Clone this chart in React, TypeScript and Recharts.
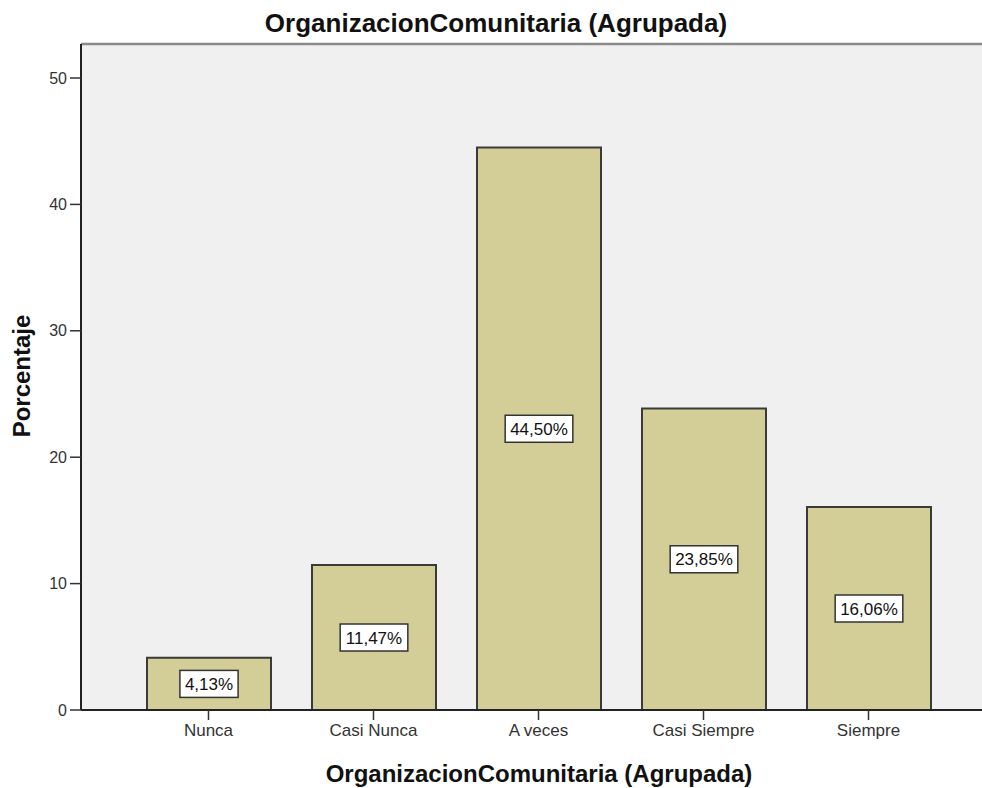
import { Bar, BarChart, CartesianGrid, LabelList, ReferenceLine, XAxis, YAxis } from "recharts";

const categories = ["Nunca", "Casi Nunca", "A veces", "Casi Siempre", "Siempre"];
const percentages = [4.13, 11.47, 44.5, 23.85, 16.06];
const yTicks = [0, 10, 20, 30, 40, 50];
const yMax = 52.69;

const chartData = categories.map((name, i) => ({ name, value: percentages[i] }));

const FONT = "'Liberation Sans', Arial, sans-serif";
const TITLE = "OrganizacionComunitaria (Agrupada)";

const fmt = (v: number) => v.toFixed(2).replace(".", ",") + "%";

// rough Arial widths, to size the label box
const textWidth = (s: string, size: number) =>
  s.split("").reduce((w, ch) => w + (ch === "," ? 0.278 : ch === "%" ? 0.889 : 0.556), 0) * size;

const BoxLabel = (props: any) => {
  const { x, y, width, height, value } = props;
  const text = fmt(Number(value));
  const w = textWidth(text, 17) + 10;
  const h = 27;
  const cx = x + width / 2;
  const cy = y + height / 2;
  return (
    <g>
      <rect x={cx - w / 2} y={cy - h / 2} width={w} height={h} fill="#fff" stroke="#333" strokeWidth={1.5} />
      <text x={cx} y={cy + 6} textAnchor="middle" fontSize={17} fontFamily={FONT} fill="#111">
        {text}
      </text>
    </g>
  );
};

export default function App() {
  return (
    <div style={{ position: "absolute", left: 0, top: 0, width: 982, height: 788, background: "#fff" }}>
      <BarChart
        width={982}
        height={788}
        data={chartData}
        margin={{ top: 44, right: 0, bottom: 0, left: 0 }}
      >
        <CartesianGrid fill="#F0F0F0" horizontal={false} vertical={false} />
        <ReferenceLine y={yMax} stroke="#8a8a8a" strokeWidth={2.5} />
        <XAxis
          dataKey="name"
          height={78}
          padding={{ left: 45, right: 31 }}
          axisLine={{ stroke: "#222", strokeWidth: 2 }}
          tickLine={{ stroke: "#333", strokeWidth: 1.5 }}
          tickSize={10}
          tickMargin={4}
          tick={{ fontSize: 17, fontFamily: FONT, fill: "#333" }}
        />
        <YAxis
          width={81}
          domain={[0, yMax]}
          ticks={yTicks}
          axisLine={{ stroke: "#222", strokeWidth: 2 }}
          tickLine={{ stroke: "#333", strokeWidth: 1.5 }}
          tickSize={11}
          tickMargin={3}
          tick={{ fontSize: 16, fontFamily: FONT, fill: "#333" }}
        />
        <Bar dataKey="value" barSize={124} fill="#D3CE98" stroke="#3a3a3a" strokeWidth={2} isAnimationActive={false}>
          <LabelList dataKey="value" content={BoxLabel} />
        </Bar>
      </BarChart>
      <svg width={982} height={788} style={{ position: "absolute", left: 0, top: 0, pointerEvents: "none" }}>
        <text x={496} y={32} textAnchor="middle" fontSize={26} fontWeight="bold" fontFamily={FONT} fill="#111">
          {TITLE}
        </text>
        <text x={539} y={782} textAnchor="middle" fontSize={24} fontWeight="bold" fontFamily={FONT} fill="#111">
          {TITLE}
        </text>
        <text
          x={30}
          y={376}
          transform="rotate(-90 30 376)"
          textAnchor="middle"
          fontSize={24}
          fontWeight="bold"
          fontFamily={FONT}
          fill="#111"
        >
          Porcentaje
        </text>
      </svg>
    </div>
  );
}
